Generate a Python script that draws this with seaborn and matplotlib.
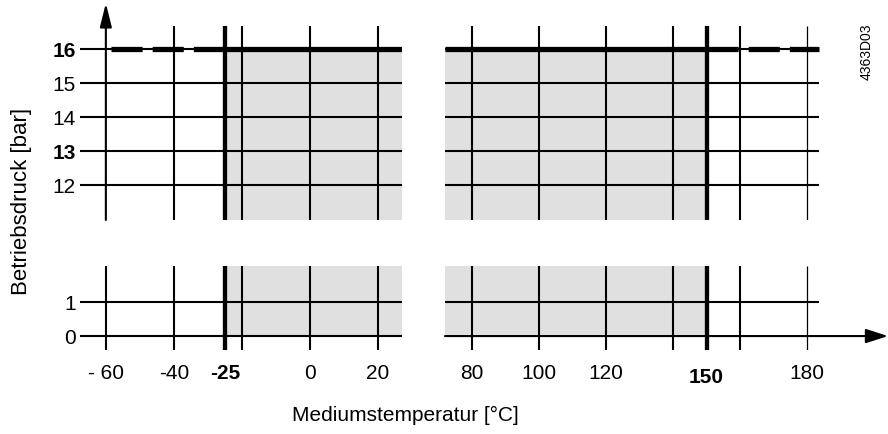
import matplotlib
matplotlib.use("Agg")
import matplotlib.pyplot as plt
import matplotlib.transforms as mtransforms
import seaborn as sns

# pressure grid [bar]
p_upper = [12, 13, 14, 15, 16]
p_upper_labels = ["12", "13", "14", "15", "16"]
p_lower = [0, 1]
p_lower_labels = ["0", "1"]

# temperature grid [°C], split axis
t_left = [-60, -40, -25, -20, 0, 20]
t_left_labels = ["- 60", "-40", "-25", "", "0", "20"]
t_right = [80, 100, 120, 140, 150, 160, 180]
t_right_labels = ["80", "100", "120", "", "150", "", "180"]

# permitted operating range
t_min, t_max = -25, 150
p_max = 16
dash_left = [-58.5, t_min]      # dashed limit line outside range
dash_right = [t_max, 183.6]
grid_end = 183.6                 # right end of the grid lines

bold_labels = {"16", "13", "-25", "150"}

sns.set_theme(style="white")
plt.rcParams["font.family"] = ["Liberation Sans", "DejaVu Sans"]
plt.rcParams["text.color"] = "black"

W, H = 888, 434
fig = plt.figure(figsize=(W / 100, H / 100), dpi=100)


def add(x0, x1, y0, y1):
    return fig.add_axes([x0 / W, 1 - y1 / H, (x1 - x0) / W, (y1 - y0) / H])


ax_ul = add(80, 402, 26, 220)
ax_ur = add(445, 888, 26, 220)
ax_ll = add(80, 402, 266, 350)
ax_lr = add(445, 888, 266, 350)

for ax in (ax_ul, ax_ll):
    ax.set_xlim(-67.6, 27.06)
for ax in (ax_ur, ax_lr):
    ax.set_xlim(71.9, 204.2)
for ax in (ax_ul, ax_ur):
    ax.set_ylim(10.97, 16.68)
for ax in (ax_ll, ax_lr):
    ax.set_ylim(-0.41, 2.06)

shade = "#e0e0e0"
lw = 1.5
lw_thick = 3.1
lw_limit = 3.8
dash = (0, (5.9, 1.9))

for ax in (ax_ul, ax_ur, ax_ll, ax_lr):
    for s in ax.spines.values():
        s.set_visible(False)
    ax.set_facecolor("none")
    ax.grid(False)
    ax.tick_params(length=0, labelsize=15, colors="black")
    ax.set_xticks([])
    ax.set_yticks([])


def vgrid(ax, temps):
    y0, y1 = ax.get_ylim()
    for t in temps:
        if t in (t_min, t_max):
            ax.vlines(t, y0, y1 + 0.06, color="black", lw=lw_thick, zorder=3)
        elif t == 180:
            ax.vlines(t, y0, y1, color="black", lw=0.9, zorder=2)
        elif t == -60 and ax is ax_ul:
            ax.annotate("", xy=(t, 17.35), xytext=(t, y0),
                        arrowprops=dict(arrowstyle="-|>,head_length=0.96,head_width=0.24",
                                        lw=lw, color="black", shrinkA=0, shrinkB=0,
                                        mutation_scale=15),
                        annotation_clip=False, zorder=2)
        else:
            ax.vlines(t, y0, y1, color="black", lw=lw, zorder=2)


# upper left
xl0, xl1 = ax_ul.get_xlim()
yu0, yu1 = ax_ul.get_ylim()
ax_ul.fill_betweenx([yu0, p_max], t_min, xl1, color=shade, lw=0, zorder=0)
ax_ul.hlines(p_upper, xl0, xl1, color="black", lw=lw, zorder=1)
vgrid(ax_ul, t_left)
ax_ul.plot(dash_left, [p_max, p_max], color="black", lw=lw_limit, linestyle=dash, zorder=4)
ax_ul.plot([t_min, xl1], [p_max, p_max], color="black", lw=lw_limit, zorder=4,
           solid_capstyle="butt")
ax_ul.set_yticks(p_upper, p_upper_labels)
ax_ul.tick_params(axis="y", pad=3)

# upper right
xr0, xr1 = ax_ur.get_xlim()
ax_ur.fill_betweenx([yu0, p_max], xr0, t_max, color=shade, lw=0, zorder=0)
ax_ur.hlines(p_upper, xr0, grid_end, color="black", lw=lw, zorder=1)
vgrid(ax_ur, t_right)
ax_ur.plot([xr0, t_max], [p_max, p_max], color="black", lw=lw_limit, zorder=4,
           solid_capstyle="butt")
ax_ur.plot(dash_right, [p_max, p_max], color="black", lw=lw_limit, linestyle=dash, zorder=4)

# lower left
yl0, yl1 = ax_ll.get_ylim()
ax_ll.fill_betweenx([0, yl1], t_min, xl1, color=shade, lw=0, zorder=0)
ax_ll.hlines(p_lower, xl0, xl1, color="black", lw=lw, zorder=1)
vgrid(ax_ll, t_left)
ax_ll.set_yticks(p_lower, p_lower_labels)
ax_ll.tick_params(axis="y", pad=3)
ax_ll.set_xticks(t_left, t_left_labels)
ax_ll.tick_params(axis="x", pad=10)

# lower right
ax_lr.fill_betweenx([0, yl1], xr0, t_max, color=shade, lw=0, zorder=0)
ax_lr.hlines(1, xr0, grid_end, color="black", lw=lw, zorder=1)
ax_lr.annotate("", xy=(xr1, 0), xytext=(xr0, 0),
               arrowprops=dict(arrowstyle="-|>,head_length=0.9,head_width=0.29",
                               lw=lw, color="black", shrinkA=0, shrinkB=0,
                               mutation_scale=15),
               annotation_clip=False, zorder=2)
vgrid(ax_lr, t_right)
ax_lr.set_xticks(t_right, t_right_labels)
ax_lr.tick_params(axis="x", pad=10)

shift_down = mtransforms.ScaledTranslation(0, -4 / 100, fig.dpi_scale_trans)
for ax in (ax_ul, ax_ll, ax_lr):
    for lab in ax.get_xticklabels() + ax.get_yticklabels():
        if lab.get_text() in bold_labels:
            lab.set_fontweight("bold")
        if lab.get_text() == "150":
            lab.set_transform(lab.get_transform() + shift_down)

fig.text(405 / W, 1 - 415 / H, "Mediumstemperatur [°C]", ha="center", va="center",
         fontsize=15)
fig.text(21 / W, 1 - 201 / H, "Betriebsdruck [bar]", ha="center", va="center",
         rotation=90, fontsize=16)
fig.text(867 / W, 1 - 52 / H, "4363D03", ha="center", va="center",
         rotation=90, fontsize=10)

fig.savefig("out.png", dpi=100)
